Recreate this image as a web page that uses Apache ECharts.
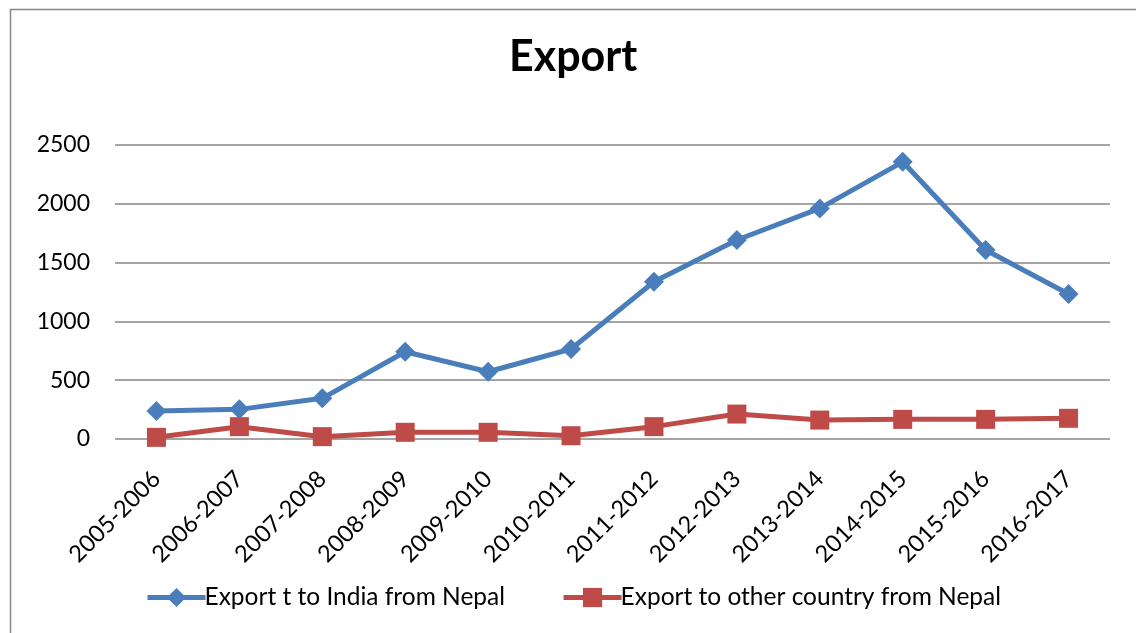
<!DOCTYPE html>
<html>
<head>
<meta charset="utf-8">
<script src="https://cdn.jsdelivr.net/npm/echarts@6/dist/echarts.min.js"></script>
<style>html,body{margin:0;padding:0;background:#fff}#c{width:1136px;height:633px}</style>
</head>
<body>
<div id="c"></div>
<script>
const categories = ['2005-2006','2006-2007','2007-2008','2008-2009','2009-2010','2010-2011','2011-2012','2012-2013','2013-2014','2014-2015','2015-2016','2016-2017'];
const indiaExport = [238, 252, 346, 742, 572, 765, 1337, 1692, 1961, 2357, 1607, 1233];
const otherExport = [14, 105, 20, 57, 57, 28, 105, 212, 161, 167, 167, 176];
const seriesNames = ['Export t to India from Nepal', 'Export to other country from Nepal'];
const yTicks = [0, 500, 1000, 1500, 2000, 2500];

const FONT = 'Lato, "Open Sans", sans-serif';
const chart = echarts.init(document.getElementById('c'), null, {renderer: 'canvas'});
chart.setOption({
  animation: false,
  backgroundColor: '#fff',
  graphic: [{
    type: 'rect', left: 8, top: 7, shape: {width: 1200, height: 700},
    style: {fill: 'none', stroke: '#868686', lineWidth: 1.5}, silent: true, z: -1
  }],
  title: {
    text: 'Export', left: 504, top: 31,
    textStyle: {fontFamily: FONT, fontSize: 43, fontWeight: 'bold', color: '#000'}
  },
  legend: {
    top: 580, left: 140, itemGap: 56, itemWidth: 58, itemHeight: 24,
    lineStyle: {width: 5},
    textStyle: {fontFamily: FONT, fontSize: 24.5, color: '#000', padding: [0,0,0,-6]},
    data: seriesNames
  },
  grid: {left: 115, right: 26, top: 145, bottom: 194, containLabel: false},
  xAxis: {
    type: 'category', data: categories, boundaryGap: true,
    axisLine: {show: false}, axisTick: {show: false},
    axisLabel: {rotate: 45, fontFamily: FONT, fontSize: 23.5, color: '#000', margin: 36, interval: 0}
  },
  yAxis: {
    type: 'value', min: yTicks[0], max: yTicks[yTicks.length-1], interval: 500,
    axisLine: {show: false}, axisTick: {show: false},
    axisLabel: {fontFamily: FONT, fontSize: 23, color: '#000', margin: 25, formatter: v => String(v)},
    splitLine: {lineStyle: {color: '#868686', width: 1.5}}
  },
  series: [
    {
      name: seriesNames[0], type: 'line', data: indiaExport,
      symbol: 'diamond', symbolSize: 20,
      lineStyle: {color: '#4A7EBB', width: 5},
      itemStyle: {color: '#4A7EBB'}
    },
    {
      name: seriesNames[1], type: 'line', data: otherExport,
      symbol: 'rect', symbolSize: 19,
      lineStyle: {color: '#BE4B48', width: 5},
      itemStyle: {color: '#BE4B48'}
    }
  ]
});
</script>
</body>
</html>
